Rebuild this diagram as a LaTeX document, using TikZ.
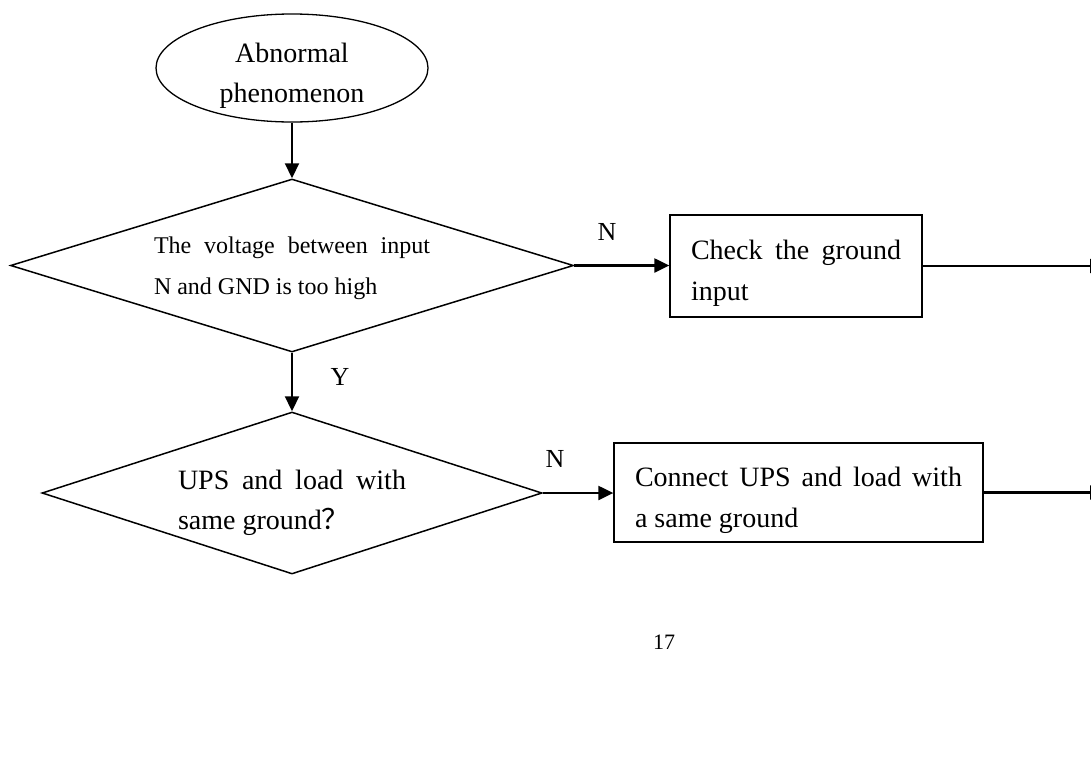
\documentclass[tikz,border=0pt]{standalone}
\usepackage{fontspec}
\setmainfont{Liberation Serif}
\newfontfamily\cjk{Noto Sans CJK SC}
\usetikzlibrary{shapes.geometric,arrows.meta,positioning}
\hyphenpenalty=10000
\exhyphenpenalty=10000
% tall first line, so that the text sits a little low in its shape
\newcommand{\lowstrut}[1]{\rule{0pt}{#1}}

\begin{document}
\begin{tikzpicture}[x=1pt, y=-1pt,
    startend/.style={ellipse, draw, line width=1.3pt, minimum width=272pt, minimum height=108pt, inner sep=-5pt, align=center, font=\fontsize{28}{40}\selectfont},
    decision/.style={diamond, draw, line width=1.5pt, inner sep=-4pt, align=justify},
    box/.style={rectangle, draw, line width=1.3pt, inner sep=0pt, align=justify, font=\fontsize{28}{41}\selectfont},
    arrow/.style={-{Triangle[length=15pt,width=14pt]}, line width=2.2pt},
    lbl/.style={font=\fontsize{26}{30}\selectfont}
]
    \useasboundingbox (0,0) rectangle (1091,758);
    \clip (0,0) rectangle (1091,758);

    % Start
    \node[startend] (abnormal) at (292,68) {\lowstrut{35pt}Abnormal\\phenomenon};

    % Decisions
    \node[decision, minimum width=563pt, minimum height=173pt, shape aspect=3.25, text width=276pt, font=\fontsize{24}{41}\selectfont] (voltage) at (292,265.5) {\lowstrut{22pt}The voltage between input\linebreak N and GND is too high};
    \node[decision, minimum width=500pt, minimum height=162pt, shape aspect=3.09, text width=228pt, font=\fontsize{28}{40}\selectfont] (ground) at (292,493) {\lowstrut{39pt}UPS and load with\linebreak same ground{\cjk ？}};

    % Actions
    \node[box, minimum width=252pt, minimum height=102pt, text width=210pt] (check) at (796,266) {\lowstrut{33pt}Check the ground\linebreak input};
    \node[box, minimum width=369pt, minimum height=99pt, text width=327pt] (connect) at (798.5,492.5) {\lowstrut{35pt}Connect UPS and load with\linebreak a same ground};

    % Free end (past the right edge)
    \coordinate (edge) at (1105,0);

    % Arrows
    \draw[arrow] (abnormal) -- (voltage.north);
    \draw[arrow] (voltage.south) -- (ground.north);
    \draw[arrow] (voltage.east) -- (voltage.east -| check.west);
    \draw[arrow] (ground.east) -- (ground.east -| connect.west);
    \draw[arrow] (check.east) -- (check.east -| edge);
    \draw[arrow] (connect.east) -- (connect.east -| edge);

    % Labels
    \node[lbl] (n1) at (607,232) {N};
    \node[lbl] (n2) at (555,459) {N};
    \node[lbl] (y1) at (340,377) {Y};
    \node[font=\fontsize{22}{26}\selectfont] (page) at (664,642) {17};
\end{tikzpicture}
\end{document}
